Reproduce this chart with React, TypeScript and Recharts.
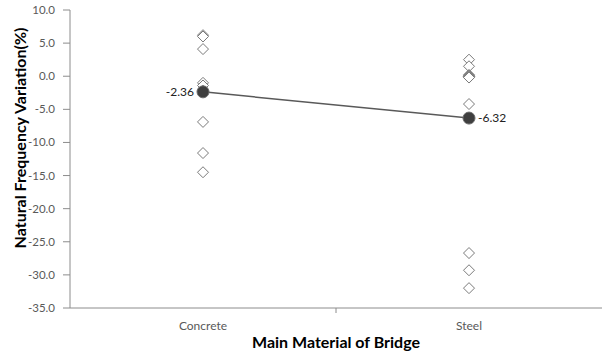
import React from 'react';
import { ComposedChart, Scatter, XAxis, YAxis, LabelList } from 'recharts';

// Bridge main materials along the horizontal axis
const categories = ['Concrete', 'Steel'];

// Natural frequency variation (%) of individual bridges
const concreteValues = [6.2, 6.0, 4.1, -1.0, -1.4, -2.2, -6.9, -11.6, -14.5];
const steelValues = [2.5, 1.5, 0.2, 0.1, 0.0, -0.1, -0.1, -0.1, -0.1, -0.2, -4.2, -26.7, -29.3, -32.0];

// Mean variation per material
const meanValues = [-2.36, -6.32];

const yTicks = [10, 5, 0, -5, -10, -15, -20, -25, -30, -35];

const FONT = 'Lato, "Open Sans", sans-serif';
const TEXT = '#595959';
const AXIS = '#8c8c8c';

const toPoints = (values: number[], idx: number) =>
  values.map((v) => ({ x: idx + 0.5, y: v }));

const concretePoints = toPoints(concreteValues, 0);
const steelPoints = toPoints(steelValues, 1);
const meanPoints = meanValues.map((v, i) => ({ x: i + 0.5, y: v, idx: i }));

const Diamond = (props: any) => {
  const { cx, cy } = props;
  const r = 5.5;
  return (
    <polygon
      points={`${cx},${cy - r} ${cx + r},${cy} ${cx},${cy + r} ${cx - r},${cy}`}
      fill="#ffffff"
      stroke="#7a7a7a"
      strokeWidth={1}
    />
  );
};

const MeanDot = (props: any) => {
  const { cx, cy } = props;
  return <circle cx={cx} cy={cy} r={6} fill="#3f3f3f" stroke="#6a6a6a" strokeWidth={1} />;
};

const MeanLabel = (props: any) => {
  const { x, y, width, height, value, index } = props;
  const cx = x + (width || 0) / 2;
  const cy = y + (height || 0) / 2;
  const left = index === 0;
  return (
    <text
      x={left ? cx - 9 : cx + 9}
      y={cy}
      dy="0.35em"
      textAnchor={left ? 'end' : 'start'}
      fontFamily={FONT}
      fontSize={12}
      fill="#222"
    >
      {Number(value).toFixed(2)}
    </text>
  );
};

const XTick = (props: any) => {
  const { x, y, payload } = props;
  const v = payload.value as number;
  if (Number.isInteger(v)) {
    return <line x1={x} x2={x} y1={y} y2={y + 5} stroke={AXIS} strokeWidth={1} />;
  }
  return (
    <text x={x} y={y + 22} textAnchor="middle" fontFamily={FONT} fontSize={12} fill={TEXT}>
      {categories[Math.floor(v)]}
    </text>
  );
};

const YTick = (props: any) => {
  const { x, y, payload } = props;
  return (
    <text x={x} y={y} dy="0.35em" textAnchor="end" fontFamily={FONT} fontSize={11.5} fill={TEXT}>
      {Number(payload.value).toFixed(1)}
    </text>
  );
};

export default function App() {
  return (
    <div style={{ position: 'absolute', left: 0, top: 0, width: 602, height: 355, background: '#fff' }}>
      <ComposedChart width={602} height={355} margin={{ top: 10, right: 0, bottom: 0, left: 0 }}>
        <XAxis
          type="number"
          dataKey="x"
          domain={[0, 2]}
          ticks={[0.5, 1, 1.5]}
          tick={<XTick />}
          tickLine={false}
          tickSize={0}
          tickMargin={0}
          axisLine={{ stroke: AXIS, strokeWidth: 1 }}
          height={47}
          interval={0}
        />
        <YAxis
          type="number"
          dataKey="y"
          domain={[-35, 10]}
          ticks={yTicks}
          tick={<YTick />}
          tickLine={{ stroke: AXIS }}
          tickSize={7}
          tickMargin={8}
          axisLine={{ stroke: AXIS, strokeWidth: 1 }}
          width={70}
          interval={0}
        />
        <Scatter data={concretePoints} shape={<Diamond />} isAnimationActive={false} />
        <Scatter data={steelPoints} shape={<Diamond />} isAnimationActive={false} />
        <Scatter
          data={meanPoints}
          shape={<MeanDot />}
          line={{ stroke: '#595959', strokeWidth: 1.5 }}
          lineType="joint"
          isAnimationActive={false}
        >
          <LabelList dataKey="y" content={<MeanLabel />} />
        </Scatter>
        <text
          x={336}
          y={348}
          textAnchor="middle"
          fontFamily={FONT}
          fontWeight="bold"
          fontSize={16}
          fill="#000"
        >
          Main Material of Bridge
        </text>
        <text
          x={19}
          y={138}
          transform="rotate(-90 19 138)"
          textAnchor="middle"
          dominantBaseline="central"
          fontFamily={FONT}
          fontWeight="bold"
          fontSize={16}
          fill="#000"
        >
          Natural Frequency Variation(%)
        </text>
      </ComposedChart>
    </div>
  );
}
